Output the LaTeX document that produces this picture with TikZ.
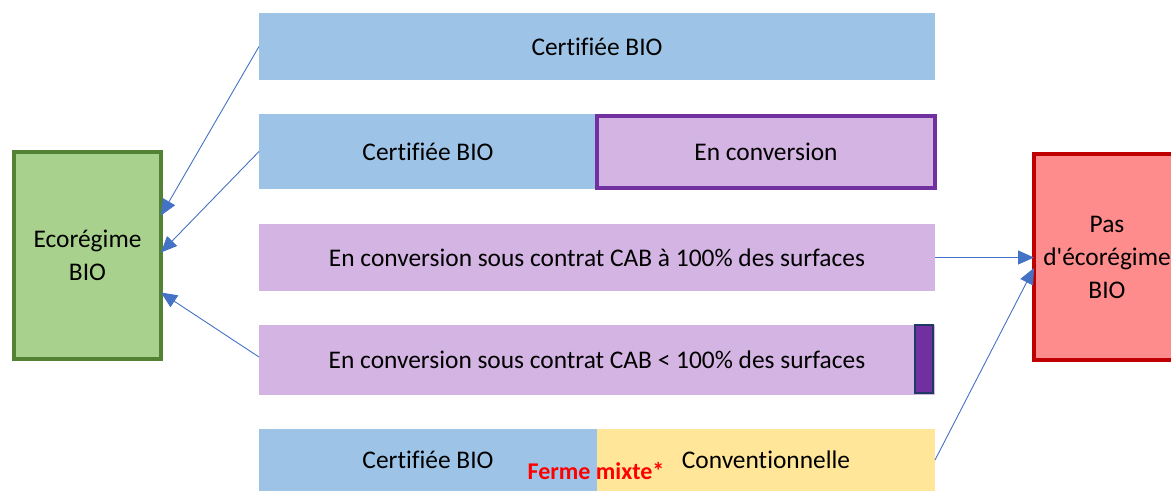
\documentclass[tikz,border=0pt]{standalone}
\usepackage{fontspec}
\setmainfont{Carlito}[Ligatures={ResetAll,NoCommon}]
\usetikzlibrary{arrows.meta,calc}
\newcommand{\straightquote}{\XeTeXglyph\XeTeXcharglyph"0027\relax}
\definecolor{bioblue}{HTML}{9DC3E6}
\definecolor{convlilac}{HTML}{D4B4E3}
\definecolor{convpurple}{HTML}{7030A0}
\definecolor{navyline}{HTML}{1F3864}
\definecolor{convyellow}{HTML}{FFE699}
\definecolor{ecogreen}{HTML}{A9D18E}
\definecolor{ecogreenline}{HTML}{548235}
\definecolor{noeco}{HTML}{FF8C8C}
\definecolor{noecoline}{HTML}{C00000}
\definecolor{arrowblue}{HTML}{4472C4}
\tikzset{
  bar/.style={anchor=north west, inner sep=0pt, outer sep=0pt, align=center,
    font=\fontsize{25.4}{32}\selectfont},
  bluebar/.style={bar, fill=bioblue},
  lilacbar/.style={bar, fill=convlilac},
  yellowbar/.style={bar, fill=convyellow},
  regime/.style={anchor=north west, inner sep=0pt, outer sep=0pt, align=center,
    line width=4pt, font=\fontsize{25.4}{33}\selectfont},
  flow/.style={draw=arrowblue, line width=0.9pt,
    -{Triangle[length=16pt,width=14pt]}}
}
\begin{document}
\begin{tikzpicture}[x=1pt,y=-1pt]
\useasboundingbox (0,0) rectangle (1171,491);
\begin{scope}
\clip (0,0) rectangle (1171,491);
% left: eco-scheme granted
\node[regime, draw=ecogreenline, fill=ecogreen, minimum width=147pt, minimum height=207pt]
  (eco) at (14,152) {Ecorégime\\BIO};
% right: no eco-scheme (runs past the page edge)
\node[regime, draw=noecoline, fill=noeco, minimum width=146pt, minimum height=206pt]
  (pas) at (1034,154) {Pas\\d\straightquote écorégime\\BIO};

% row 1
\node[bluebar, minimum width=676pt, minimum height=67pt] (r1) at (259,13) {Certifiée BIO};
% row 2
\node[bluebar, minimum width=338pt, minimum height=75pt] (r2a) at (259,114) {Certifiée BIO};
\node[lilacbar, draw=convpurple, line width=4pt, minimum width=338pt, minimum height=72pt]
  (r2b) at (597,115.5) {En conversion};
% row 3
\node[lilacbar, minimum width=676pt, minimum height=67pt] (r3) at (259,224) {En conversion sous contrat CAB à 100\% des surfaces};
% row 4
\node[lilacbar, minimum width=676pt, minimum height=70pt] (r4) at (259,325) {En conversion sous contrat CAB < 100\% des surfaces};
\node[anchor=north west, inner sep=0pt, draw=navyline, fill=convpurple, line width=2pt,
  minimum width=18pt, minimum height=68pt] (r4b) at (914,324) {};
% row 5
\node[bluebar, minimum width=338pt, minimum height=62pt] (r5a) at (259,429) {Certifiée BIO};
\node[yellowbar, minimum width=338pt, minimum height=62pt] (r5b) at (597,429) {Conventionnelle};
\node[font=\fontsize{24}{24}\selectfont\bfseries, text=red, inner sep=0pt]
  (mixte) at (596,471) {Ferme mixte*};
\end{scope}

% connectors
\draw[flow] (r1.west) -- ($(eco.east)+(0,-40)$);
\draw[flow] (r2a.west) -- ($(eco.east)+(0,-3)$);
\draw[flow] ($(r4.west)+(0,-3)$) -- ($(eco.east)+(0,37)$);
\draw[flow] (r3.east) -- (r3.east -| pas.west);
\draw[flow] (r5b.east) -- ($(pas.west)+(0,11)$);
\end{tikzpicture}
\end{document}
